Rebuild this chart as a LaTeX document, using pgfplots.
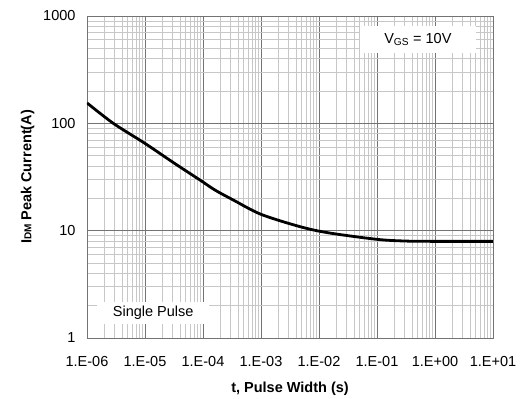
\documentclass[border=0pt]{standalone}
\usepackage{pgfplots}
\pgfplotsset{compat=1.18}
\usepackage{fontspec}
\setmainfont{Liberation Sans}
\begin{document}
\begin{tikzpicture}
\begin{axis}[
  at={(0,0)}, anchor=south west,
  scale only axis, width=406pt, height=322pt,
  xmode=log, ymode=log,
  xmin=1e-6, xmax=10, ymin=1, ymax=1000,
  xtick={1e-6,1e-5,1e-4,1e-3,1e-2,1e-1,1,10},
  xticklabels={1.E-06,1.E-05,1.E-04,1.E-03,1.E-02,1.E-01,1.E+00,1.E+01},
  ytick={1,10,100,1000},
  yticklabels={1,10,100,1000},
  /pgf/number format/assume math mode=true,
  tick label style={font=\fontsize{14.5}{16}\selectfont},
  xticklabel style={yshift=-15pt},
  yticklabel style={xshift=-8pt},
  grid=both,
  major grid style={draw=black!55, line width=0.9pt},
  minor grid style={draw=black!22, line width=0.7pt},
  tick style={draw=none},
  axis line style={draw=black!55, line width=0.9pt},
  xlabel={\bfseries t, Pulse Width (s)},
  ylabel={\bfseries I{\fontsize{10}{10}\selectfont DM} Peak Current(A)},
  label style={font=\fontsize{14.5}{16}\selectfont},
  xlabel style={yshift=-8pt},
  ylabel style={yshift=2pt},
]
\addplot[black, line width=2.8pt, smooth] coordinates {
(1e-6,155) (2.84e-6,100) (1e-5,65) (3.16e-5,42.7) (8.9e-5,29.6)
(1.61e-4,23.9) (3.33e-4,19.3) (1e-3,14.2) (4.7e-3,10.9) (1.45e-2,9.55)
(1e-1,8.3) (3.16e-1,8.0) (1,7.95) (10,7.95)
};
\node[fill=white, inner xsep=10pt, inner ysep=4pt, minimum width=116pt, minimum height=27pt, font=\fontsize{14.5}{16}\selectfont] at (rel axis cs:0.815,0.928) {V\textsubscript{GS} = 10V};
\node[fill=white, minimum width=112pt, minimum height=22pt, font=\fontsize{14.5}{16}\selectfont] at (rel axis cs:0.163,0.077) {Single Pulse};
\end{axis}
\useasboundingbox (-87pt,-59pt) rectangle (433pt,338pt);
\end{tikzpicture}
\end{document}
